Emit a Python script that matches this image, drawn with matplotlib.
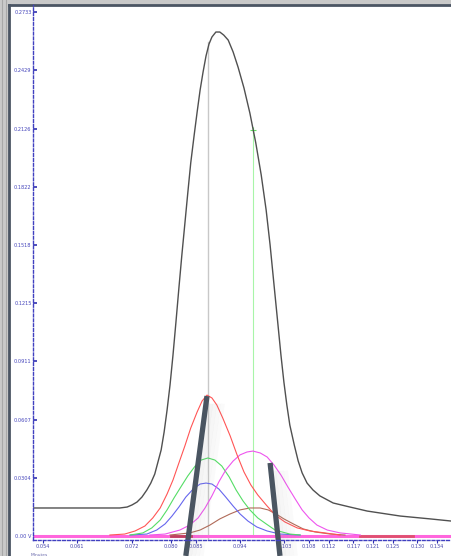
import numpy as np
import matplotlib
matplotlib.use("Agg")
import matplotlib.pyplot as plt
from matplotlib.patches import Rectangle

# total signal (minutes, volts)
total_t = [0.0520, 0.0696, 0.0711, 0.0721, 0.0731, 0.0741, 0.0751, 0.0759, 0.0767, 0.0773,
           0.0780, 0.0786, 0.0792, 0.0798, 0.0804, 0.0810, 0.0816, 0.0822, 0.0828, 0.0834,
           0.0840, 0.0847, 0.0853, 0.0859, 0.0865, 0.0871, 0.0877, 0.0883, 0.0891, 0.0899,
           0.0907, 0.0916, 0.0926, 0.0936, 0.0948, 0.0960, 0.0972, 0.0983, 0.0993, 0.1001,
           0.1009, 0.1017, 0.1023, 0.1029, 0.1035, 0.1041, 0.1050, 0.1058, 0.1066, 0.1076,
           0.1088, 0.1102, 0.1129, 0.1163, 0.1198, 0.1265, 0.1326, 0.1368]
total_v = [0.0146, 0.0146, 0.0151, 0.0162, 0.0177, 0.0203, 0.0240, 0.0276, 0.0323, 0.0381,
           0.0449, 0.0542, 0.0657, 0.0788, 0.0944, 0.1116, 0.1294, 0.1466, 0.1627, 0.1789,
           0.1946, 0.2092, 0.2212, 0.2326, 0.2420, 0.2504, 0.2566, 0.2603, 0.2629, 0.2629,
           0.2613, 0.2587, 0.2525, 0.2446, 0.2337, 0.2206, 0.2050, 0.1883, 0.1700, 0.1518,
           0.1309, 0.1101, 0.0944, 0.0803, 0.0683, 0.0579, 0.0475, 0.0391, 0.0329, 0.0276,
           0.0240, 0.0209, 0.0172, 0.0151, 0.0130, 0.0104, 0.0089, 0.0078]

# fitted component peaks
red_t = [0.0676, 0.0706, 0.0727, 0.0747, 0.0763, 0.0778, 0.0792, 0.0804, 0.0816, 0.0828,
         0.0840, 0.0853, 0.0863, 0.0873, 0.0883, 0.0893, 0.0905, 0.0920, 0.0934, 0.0948,
         0.0962, 0.0976, 0.0993, 0.1011, 0.1031, 0.1056, 0.1082, 0.1112, 0.1143]
red_v = [0.0005, 0.0010, 0.0026, 0.0052, 0.0094, 0.0146, 0.0219, 0.0292, 0.0381, 0.0469,
         0.0563, 0.0647, 0.0704, 0.0735, 0.0720, 0.0683, 0.0615, 0.0522, 0.0423, 0.0334,
         0.0266, 0.0214, 0.0162, 0.0110, 0.0073, 0.0042, 0.0026, 0.0016, 0.0005]
green_t = [0.0717, 0.0743, 0.0761, 0.0778, 0.0792, 0.0806, 0.0820, 0.0834, 0.0849, 0.0861,
           0.0875, 0.0889, 0.0903, 0.0918, 0.0932, 0.0946, 0.0960, 0.0976, 0.0993, 0.1011,
           0.1041, 0.1062]
green_v = [0.0005, 0.0016, 0.0042, 0.0083, 0.0136, 0.0198, 0.0256, 0.0313, 0.0365, 0.0396,
           0.0407, 0.0396, 0.0365, 0.0308, 0.0240, 0.0183, 0.0136, 0.0094, 0.0063, 0.0031,
           0.0010, 0.0005]
blue_t = [0.0717, 0.0751, 0.0771, 0.0788, 0.0802, 0.0816, 0.0830, 0.0845, 0.0859, 0.0871,
          0.0883, 0.0897, 0.0911, 0.0926, 0.0940, 0.0956, 0.0974, 0.0995, 0.1021, 0.1062]
blue_v = [0.0005, 0.0010, 0.0031, 0.0063, 0.0104, 0.0151, 0.0203, 0.0245, 0.0271, 0.0276,
          0.0271, 0.0245, 0.0203, 0.0156, 0.0115, 0.0078, 0.0047, 0.0026, 0.0010, 0.0005]
magenta_t = [0.0757, 0.0788, 0.0818, 0.0838, 0.0855, 0.0869, 0.0883, 0.0897, 0.0911, 0.0926,
             0.0940, 0.0954, 0.0966, 0.0981, 0.0995, 0.1009, 0.1023, 0.1037, 0.1052, 0.1066,
             0.1080, 0.1096, 0.1117, 0.1143, 0.1184]
magenta_v = [0.0005, 0.0010, 0.0031, 0.0057, 0.0094, 0.0146, 0.0209, 0.0282, 0.0344, 0.0391,
             0.0423, 0.0438, 0.0443, 0.0433, 0.0412, 0.0370, 0.0318, 0.0256, 0.0193, 0.0136,
             0.0094, 0.0057, 0.0031, 0.0016, 0.0005]
brown_t = [0.0798, 0.0838, 0.0859, 0.0879, 0.0899, 0.0920, 0.0940, 0.0960, 0.0981, 0.0997,
           0.1013, 0.1029, 0.1048, 0.1068, 0.1092, 0.1123, 0.1153]
brown_v = [0.0005, 0.0016, 0.0031, 0.0057, 0.0089, 0.0115, 0.0136, 0.0146, 0.0146, 0.0136,
           0.0115, 0.0089, 0.0063, 0.0037, 0.0021, 0.0010, 0.0005]

# markers
apex_gray = 0.0875
apex_green = 0.0966
apex_green_top = 0.2118

# axis ticks
y_ticks = [0.2733 * j / 9 for j in range(10)]
y_labels = ["0.00 V"] + ["%.4f" % v for v in y_ticks[1:]]
x_ticks = [0.054, 0.061, 0.072, 0.080, 0.085, 0.094, 0.103, 0.108, 0.112, 0.117, 0.121, 0.125, 0.130, 0.134]
x_labels = ["0.054", "0.061", "0.072", "0.080", "0.085", "0.094", "0.103", "0.108", "0.112",
            "0.117", "0.121", "0.125", "0.130", "0.134"]

# pointer strokes drawn over the picture (start t, start v, end t, end v)
pointers = [(0.0873, 0.0730, 0.0830, -0.0104), (0.1001, 0.0381, 0.1021, -0.0104)]

fig = plt.figure(figsize=(4.51, 5.56), dpi=100)
fig.patch.set_facecolor("#c9c9c9")

# white panel with dark frame
fig.patches.append(Rectangle((9 / 451, 0), 1, 1 - 5 / 556, transform=fig.transFigure,
                             facecolor="white", edgecolor="none", zorder=-5))
fig.add_artist(plt.Line2D([9 / 451, 9 / 451], [0, 1 - 5 / 556], color="#4b5563", lw=2,
                          transform=fig.transFigure, zorder=-4))
fig.add_artist(plt.Line2D([9 / 451, 1], [1 - 5 / 556, 1 - 5 / 556], color="#4b5563", lw=2,
                          transform=fig.transFigure, zorder=-4))
for xx in [2 / 451, 6 / 451]:
    fig.add_artist(plt.Line2D([xx, xx], [0, 1], color="#a8a8a8", lw=0.8,
                              transform=fig.transFigure, zorder=-4))

ax = fig.add_axes([33 / 451, 16 / 556, 418 / 451, 535 / 556])
ax.set_zorder(2)
ax.set_facecolor("none")
ax.set_xlim(0.0520, 0.1368)
ax.set_ylim(-0.0021, 0.2770)

ax.axvline(apex_gray, ymin=0, ymax=0.93, color="#c8c8c8", lw=1)
ax.plot([apex_green, apex_green], [0, apex_green_top], color="#a8f5a8", lw=0.8)
ax.plot([apex_green], [apex_green_top], marker="+", color="#60e060", ms=4, mew=0.8)

ax.plot(ax.get_xlim(), [0.0, 0.0], color="#ff66dd", lw=2.2, solid_capstyle="butt")
ax.plot([0.1184, 0.1291], [0.0, 0.0], color="#e05070", lw=2.0)
ax.plot([0.0800, 0.0840], [0.0, 0.0], color="#c04060", lw=2.0)

ax.plot(brown_t, brown_v, color="#b06a58", lw=0.8)
ax.plot(blue_t, blue_v, color="#6666ee", lw=0.8)
ax.plot(green_t, green_v, color="#55dd66", lw=0.8)
ax.plot(magenta_t, magenta_v, color="#ee55ee", lw=0.8)
ax.plot(red_t, red_v, color="#ff5555", lw=0.8)
ax.plot(total_t, total_v, color="#505050", lw=1.0)

# soft shadow to the right of each pointer, then the pointer itself
for t0, v0, t1, v1 in pointers:
    for k, a in enumerate([0.10, 0.08, 0.06, 0.04]):
        dx = 0.0008 * (k + 1)
        ax.plot([t0 + dx, t1 + dx], [v0 - 0.004, v1], color="#909090", lw=3, alpha=a,
                solid_capstyle="butt", clip_on=False)
    ax.plot([t0, t1], [v0, v1], color="#4a5561", lw=3.8, solid_capstyle="butt", clip_on=False)

for s in ["top", "right"]:
    ax.spines[s].set_visible(False)
for s in ["left", "bottom"]:
    ax.spines[s].set_color("#4040c0")
    ax.spines[s].set_linestyle((0, (2, 1.5)))
    ax.spines[s].set_linewidth(1.0)

ax.set_yticks(y_ticks)
ax.set_yticklabels(y_labels)
ax.set_xticks(x_ticks)
ax.set_xticklabels(x_labels)
ax.tick_params(axis="y", direction="in", length=3, width=1.2, color="#3030b0",
               labelsize=3.6, labelcolor="#4444bb", pad=1)
ax.tick_params(axis="x", direction="out", length=2, width=0.8, color="#3030b0",
               labelsize=3.6, labelcolor="#4444aa", pad=1)
ax.text(-0.005, -0.025, "Minutes", transform=ax.transAxes, fontsize=3.2, color="#6666aa",
        va="top", ha="left")

fig.savefig("out.png", dpi=100)
